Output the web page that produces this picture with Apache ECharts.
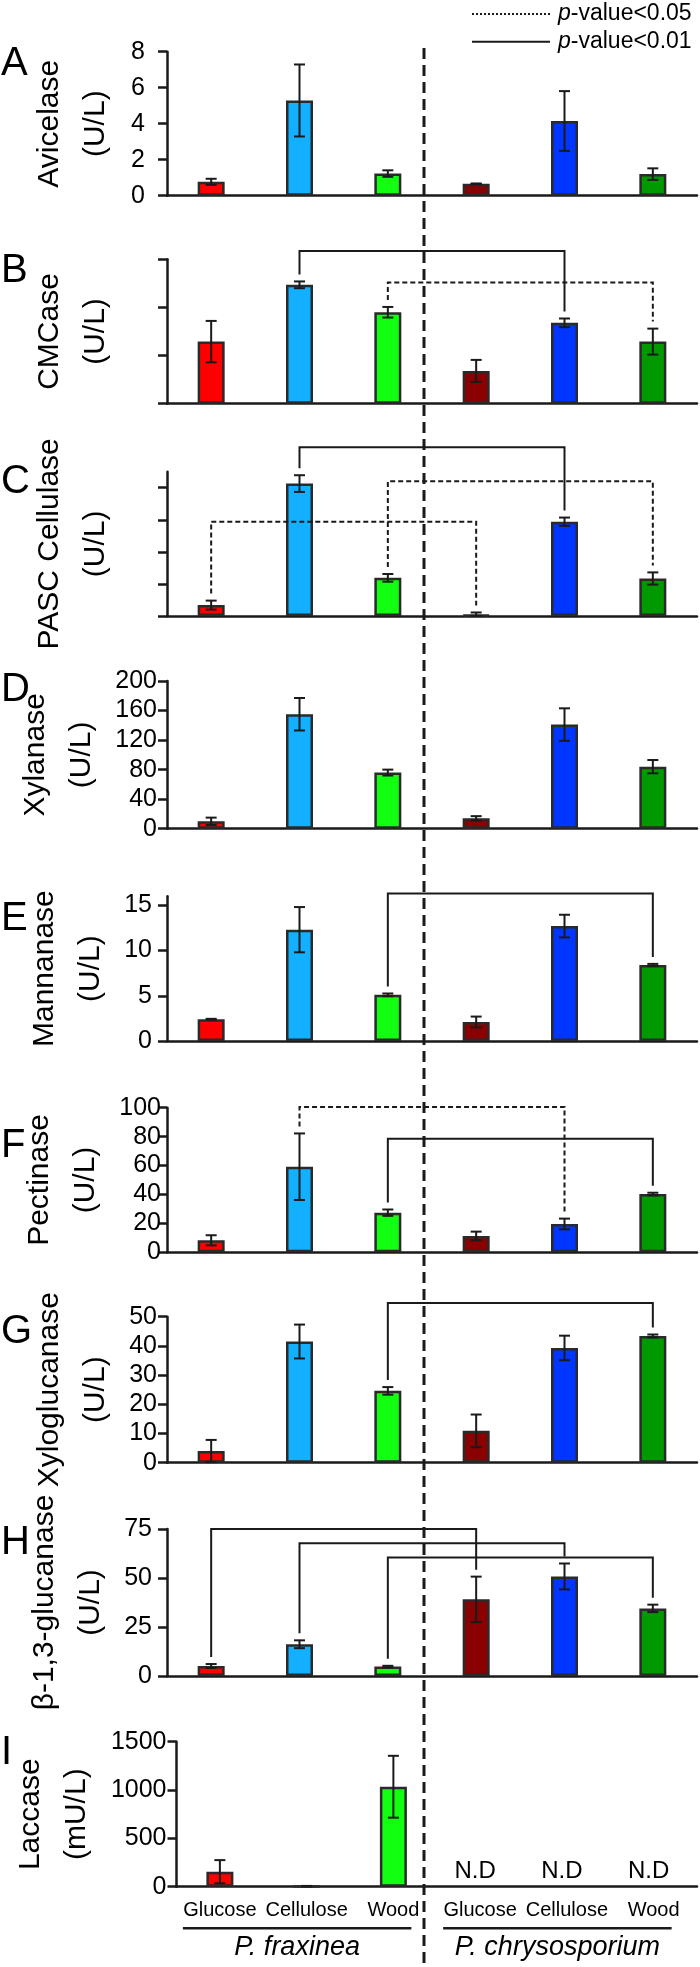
<!DOCTYPE html>
<html><head><meta charset="utf-8">
<script src="https://cdn.jsdelivr.net/npm/echarts@6/dist/echarts.min.js"></script>
<style>html,body{margin:0;padding:0;background:#fff}#c{width:700px;height:1967px}</style>
</head><body><div id="c"></div>
<script>
// ---------------- data ----------------
const categories = ['Glucose', 'Cellulose', 'Wood', 'Glucose', 'Cellulose', 'Wood'];
const speciesNames = ['P. fraxinea', 'P. chrysosporium'];
const speciesGroups = [[0, 2], [3, 5]];
const panelLetters = ['A', 'B', 'C', 'D', 'E', 'F', 'G', 'H', 'I'];
const enzymeTitles = ['Avicelase\n(U/L)', 'CMCase\n(U/L)', 'PASC Cellulase\n(U/L)', 'Xylanase\n(U/L)',
  'Mannanase\n(U/L)', 'Pectinase\n(U/L)', 'Xyloglucanase\n(U/L)', 'β-1,3-glucanase\n(U/L)', 'Laccase\n(mU/L)'];

const avicelase = [0.77, 5.29, 1.23, 0.66, 4.15, 1.2];
const avicelaseErr = [0.17, 2.0, 0.18, 0.02, 1.66, 0.32];
const cmcase = [1.29, 2.47, 1.9, 0.68, 1.68, 1.29];
const cmcaseErr = [0.43, 0.07, 0.11, 0.23, 0.09, 0.27];
const pasc = [0.34, 4.13, 1.19, 0.03, 2.94, 1.17];
const pascErr = [0.14, 0.26, 0.12, 0.08, 0.13, 0.19];
const xylanase = [10, 155, 76, 14, 141, 84];
const xylanaseErr = [5, 22, 4, 3, 22, 9];
const mannanase = [2.4, 12.3, 5.1, 2.1, 12.7, 8.4];
const mannanaseErr = [0.05, 2.5, 0.15, 0.6, 1.25, 0.12];
const pectinase = [8.3, 59.2, 27.4, 11.3, 19.6, 40.3];
const pectinaseErr = [3.5, 23, 2.2, 3, 3.7, 0.9];
const xyloglucanase = [4.0, 41.5, 24.6, 10.9, 39.3, 43.4];
const xyloglucanaseErr = [3.8, 5.8, 1.3, 5.6, 4.2, 0.5];
const glucanase = [5.1, 16.2, 4.8, 39.1, 50.8, 34.5];
const glucanaseErr = [1, 2, 0.4, 11.6, 6.6, 1.9];
const laccase = [155, 5, 1034, null, null, null];
const laccaseErr = [120, 3, 320, null, null, null];

const yMaxes = [8, 3, 4.5, 200, 16, 100, 50, 75, 1500];
const yTicks = [[0, 2, 4, 6, 8], [0, 1, 2, 3], [0, 1, 2, 3, 4], [0, 40, 80, 120, 160, 200], [0, 5, 10, 15],
  [0, 20, 40, 60, 80, 100], [0, 10, 20, 30, 40, 50], [0, 25, 50, 75], [0, 500, 1000, 1500]];
const yTickLabelsShown = [true, false, false, true, true, true, true, true, true];

// significance brackets: [fromIndex, toIndex, level, 'solid'|'dashed']
const bracketsB = [[1, 4, 3.17, 'solid'], [2, 5, 2.52, 'dashed']];
const bracketsC = [[1, 4, 5.26, 'solid'], [2, 5, 4.2, 'dashed'], [0, 3, 2.94, 'dashed']];
const bracketsE = [[2, 5, 16.3, 'solid']];
const bracketsF = [[1, 4, 100.5, 'dashed'], [2, 5, 78.6, 'solid']];
const bracketsG = [[2, 5, 54.7, 'solid']];
const bracketsH = [[0, 3, 75, 'solid'], [1, 4, 67.7, 'solid'], [2, 5, 60.5, 'solid']];

const legendLabels = ['p-value<0.05', 'p-value<0.01'];

// ---------------- styling / layout ----------------
const barColors = ['#ff0000', '#12b0ff', '#12ff12', '#8b0000', '#0036ff', '#009a00'];
const FONT = '"Liberation Sans", Arial, Helvetica, sans-serif';
const INK = '#1a1a1a';
const panels = [
  [avicelase, avicelaseErr, []], [cmcase, cmcaseErr, bracketsB], [pasc, pascErr, bracketsC],
  [xylanase, xylanaseErr, []], [mannanase, mannanaseErr, bracketsE], [pectinase, pectinaseErr, bracketsF],
  [xyloglucanase, xyloglucanaseErr, bracketsG], [glucanase, glucanaseErr, bracketsH], [laccase, laccaseErr, []]
];
const gridTops = [51.7, 259.3, 471.7, 681, 896.2, 1107.7, 1316.7, 1529, 1741.7];
const gridHeights = [144, 144.4, 144.3, 147.7, 144.8, 144.6, 146, 147, 145];
const letterCenters = [66, 273, 484, 692, 921, 1148, 1334, 1545, 1755];
const labelMargins = [22, 8, 8, 10, 15, 6, 10, 15, 10];
const GRID_LEFT = 167, GRID_RIGHT = 3;

const grids = [], xAxes = [], yAxes = [], series = [], titles = [];
const last = panels.length - 1;

panels.forEach((p, k) => {
  const [vals, errs, brackets] = p;
  grids.push({left: GRID_LEFT, right: GRID_RIGHT, top: gridTops[k], height: gridHeights[k]});
  xAxes.push({
    type: 'category', gridIndex: k, data: categories,
    axisLine: {show: true, lineStyle: {color: INK, width: 2.5}},
    axisTick: {show: false}, splitLine: {show: false},
    axisLabel: k === last ? {show: true, interval: 0, color: '#000', fontSize: 20, fontFamily: FONT, margin: 14}
      : {show: false}
  });
  yAxes.push({
    type: 'value', gridIndex: k, min: 0, max: yMaxes[k],
    name: enzymeTitles[k], nameLocation: 'middle', nameRotate: 90, nameGap: 48,
    nameTextStyle: {fontSize: 30, lineHeight: 46, color: '#000', fontFamily: FONT, align: 'center'},
    axisLine: {show: true, onZero: false, lineStyle: {color: INK, width: 2.5}},
    axisTick: {show: true, length: 9, customValues: yTicks[k], lineStyle: {color: INK, width: 2.5}},
    axisLabel: {show: yTickLabelsShown[k], customValues: yTicks[k], fontSize: 25, color: '#000',
      fontFamily: FONT, margin: labelMargins[k], formatter: v => String(v)},
    splitLine: {show: false}
  });
  titles.push({text: panelLetters[k], left: 1, top: letterCenters[k] - 22, padding: 0,
    textStyle: {fontSize: 40, fontWeight: 'normal', color: '#000', fontFamily: FONT}});

  // bars
  series.push({
    type: 'bar', xAxisIndex: k, yAxisIndex: k, barWidth: 27, z: 2,
    itemStyle: {borderColor: '#2a2a2a', borderWidth: 2.5},
    data: vals.map((v, i) => v == null ? null : {value: v, itemStyle: {color: barColors[i]}})
  });
  // error bars
  series.push({
    type: 'custom', xAxisIndex: k, yAxisIndex: k, z: 5, clip: false,
    data: vals.map((v, i) => v == null ? null : [i, v, errs[i]]).filter(d => d),
    renderItem: (params, api) => {
      const x = api.value(0), v = api.value(1), e = api.value(2);
      const t = api.coord([x, v + e]), b = api.coord([x, Math.max(0, v - e)]);
      const hw = 5.5, st = {stroke: INK, lineWidth: 2};
      return {type: 'group', children: [
        {type: 'line', shape: {x1: t[0], y1: t[1], x2: b[0], y2: b[1]}, style: st},
        {type: 'line', shape: {x1: t[0] - hw, y1: t[1], x2: t[0] + hw, y2: t[1]}, style: st},
        {type: 'line', shape: {x1: b[0] - hw, y1: b[1], x2: b[0] + hw, y2: b[1]}, style: st}
      ]};
    }
  });
  // brackets
  if (brackets.length) {
    series.push({
      type: 'custom', xAxisIndex: k, yAxisIndex: k, z: 6, clip: false,
      data: brackets.map(b => [b[0], b[1], b[2], b[3] === 'dashed' ? 1 : 0,
        vals[b[0]] + errs[b[0]], vals[b[1]] + errs[b[1]]]),
      renderItem: (params, api) => {
        const f = api.value(0), t = api.value(1), lv = api.value(2), dashed = api.value(3);
        const p1 = api.coord([f, lv]), p2 = api.coord([t, lv]);
        const e1 = api.coord([f, api.value(4)])[1] - 7, e2 = api.coord([t, api.value(5)])[1] - 7;
        return {type: 'polyline', shape: {points: [[p1[0], e1], [p1[0], p1[1]], [p2[0], p2[1]], [p2[0], e2]]},
          style: {fill: null, stroke: INK, lineWidth: 2, lineDash: dashed ? [5, 3] : null}};
      }
    });
  }
});

// N.D labels and species labels in the last panel
series.push({
  type: 'custom', xAxisIndex: last, yAxisIndex: last, z: 6, clip: false,
  data: laccase.map((v, i) => v == null ? [i, 0] : null).filter(d => d),
  renderItem: (params, api) => {
    const c = api.coord([api.value(0), api.value(1)]);
    return {type: 'text', style: {x: c[0] - 5, y: c[1] - 15, text: 'N.D', fill: '#000', fontSize: 24,
      fontFamily: FONT, align: 'center', verticalAlign: 'middle'}};
  }
});
series.push({
  type: 'custom', xAxisIndex: last, yAxisIndex: last, z: 6, clip: false,
  data: speciesGroups.map((g, j) => [g[0], g[1], j]),
  renderItem: (params, api) => {
    const a = api.coord([api.value(0), 0]), b = api.coord([api.value(1), 0]);
    const x1 = a[0] - 37, x2 = b[0] + 18, y = a[1] + 41.6;
    return {type: 'group', children: [
      {type: 'line', shape: {x1: x1, y1: y, x2: x2, y2: y}, style: {stroke: INK, lineWidth: 2.5}},
      {type: 'text', style: {x: (x1 + x2) / 2, y: y + 19, text: speciesNames[api.value(2)], fill: '#000',
        fontSize: 27, fontStyle: 'italic', fontFamily: FONT, align: 'center', verticalAlign: 'middle'}}
    ]};
  }
});

const italicP = s => '{i|' + s.slice(0, 1) + '}' + s.slice(1);
const legendText = (s, y) => ({type: 'text', style: {x: 558, y: y, text: italicP(s), fill: '#000', fontSize: 23,
  fontFamily: FONT, verticalAlign: 'middle', rich: {i: {fontStyle: 'italic', fontSize: 23, fontFamily: FONT}}}});
const option = {
  animation: false,
  backgroundColor: '#fff',
  title: titles,
  grid: grids, xAxis: xAxes, yAxis: yAxes, series: series,
  graphic: [
    {type: 'line', shape: {x1: 424, y1: 48, x2: 424, y2: 1967}, style: {stroke: INK, lineWidth: 3, lineDash: [11, 6]}, z: 1},
    {type: 'line', shape: {x1: 472, y1: 14, x2: 550, y2: 14}, style: {stroke: INK, lineWidth: 2, lineDash: [2, 2]}},
    {type: 'line', shape: {x1: 472, y1: 41.7, x2: 550, y2: 41.7}, style: {stroke: INK, lineWidth: 2}},
    legendText(legendLabels[0], 14),
    legendText(legendLabels[1], 42)
  ]
};
const chart = echarts.init(document.getElementById('c'), null, {renderer: 'canvas'});
chart.setOption(option);
</script></body></html>
